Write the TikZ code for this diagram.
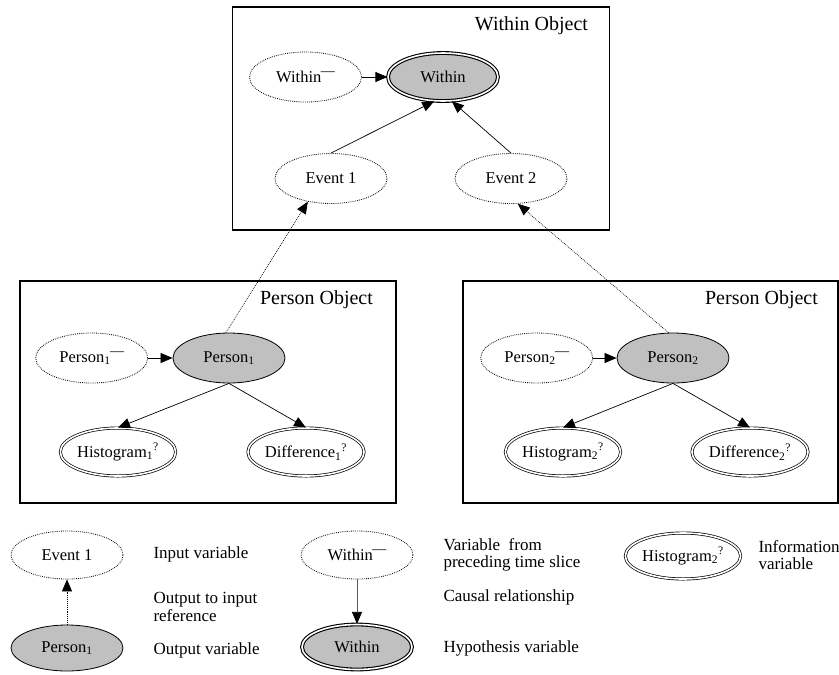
\documentclass[tikz,border=0pt]{standalone}
\usepackage{fontspec}
\setmainfont{Liberation Serif}
\usetikzlibrary{arrows.meta,shapes.geometric}
\definecolor{nodegray}{RGB}{192,192,192}
\newcommand\prevmark{\kern-0.5pt\raisebox{0.42em}{\fontsize{14}{14}\selectfont —}}
\tikzset{
  var/.style={ellipse, inner sep=0pt, minimum width=112pt, minimum height=50pt,
    font=\fontsize{16.5}{19}\selectfont},
  inputvar/.style={var, draw, dash pattern=on 0.8pt off 1.1pt, line width=0.8pt},
  outputvar/.style={var, draw, fill=nodegray, line width=0.8pt},
  hypvar/.style={var, draw, double, double distance=1.6pt, line width=1.1pt,
    fill=nodegray, minimum width=110pt, minimum height=48pt},
  infovar/.style={var, draw, double, double distance=1.6pt, line width=0.7pt,
    minimum width=111pt, minimum height=48pt},
  objbox/.style={draw, line width=1.1pt},
  boxtitle/.style={font=\fontsize{20}{24}\selectfont},
  legtext/.style={anchor=west, align=left, font=\fontsize{17}{17.5}\selectfont},
  tip/.style={-{Triangle[length=12pt,width=10pt,color=black]}},
  causal/.style={tip, line width=0.7pt},
  reflink/.style={tip, line width=0.7pt, dash pattern=on 0.8pt off 1.1pt},
}
\begin{document}
\begin{tikzpicture}[x=1pt, y=-1pt]
\useasboundingbox (0,0) rectangle (839,675);

% object frames
\draw[objbox] (232.7,7) rectangle (609.3,230);
\draw[objbox] (20,281) rectangle (396,503);
\draw[objbox] (463,281) rectangle (838,503);
\node[boxtitle] (t0) at (531.5,26) {Within Object};
\node[boxtitle] (t1) at (316.5,300) {Person Object};
\node[boxtitle] (t2) at (761.5,300) {Person Object};

% within object
\node[inputvar] (wp) at (305.5,77) {Within\prevmark};
\node[hypvar] (w) at (443,77) {Within};
\node[inputvar] (e1) at (331,178.5) {Event 1};
\node[inputvar] (e2) at (511,178.5) {Event 2};
\draw[causal] (wp) -- (w);
\draw[causal] (e1.north) -- (w.-110);
\draw[causal] (e2.north) -- (w.-70);

% person object 1
\node[inputvar] (p1p) at (91.7,358) {Person\textsubscript{1}\prevmark};
\node[outputvar] (p1) at (229,358) {Person\textsubscript{1}};
\node[infovar] (h1) at (118,452) {Histogram\textsubscript{1}\textsuperscript{?}};
\node[infovar] (d1) at (306,452) {Difference\textsubscript{1}\textsuperscript{?}};
\draw[causal] (p1p) -- (p1);
\draw[causal] (p1.south) -- (h1.north);
\draw[causal] (p1.south) -- (d1.north);

% person object 2
\node[inputvar] (p2p) at (536.7,358) {Person\textsubscript{2}\prevmark};
\node[outputvar] (p2) at (673,358) {Person\textsubscript{2}};
\node[infovar] (h2) at (563,452) {Histogram\textsubscript{2}\textsuperscript{?}};
\node[infovar] (d2) at (750,452) {Difference\textsubscript{2}\textsuperscript{?}};
\draw[causal] (p2p) -- (p2);
\draw[causal] (p2.south) -- (h2.north);
\draw[causal] (p2.south) -- (d2.north);

% output to input references
\draw[reflink] (p1.97) -- (e1.-135);
\draw[reflink] (p2.100) -- (e2.-75);

% legend
\node[inputvar, minimum height=48pt] (le) at (67,555) {Event 1};
\node[outputvar, minimum height=46pt] (lp) at (67,648) {Person\textsubscript{1}};
\draw[reflink] (lp) -- (le);
\node[legtext] (lt1) at (150,554) {Input variable};
\node[legtext] (lt2) at (150,607) {Output to input\\reference};
\node[legtext] (lt3) at (150,650) {Output variable};

\node[inputvar, minimum height=48pt] (lwp) at (357,555) {Within\prevmark};
\node[hypvar, minimum height=45pt] (lw) at (357,647) {Within};
\draw[causal, draw=black!65] (lwp) -- (lw);
\node[legtext] (lt4) at (440,555) {Variable\ \ from\\preceding time slice};
\node[legtext] (lt5) at (440,597) {Causal relationship};
\node[legtext] (lt6) at (440,648) {Hypothesis variable};

\node[infovar, minimum height=46pt] (lh) at (683,556) {Histogram\textsubscript{2}\textsuperscript{?}};
\node[legtext] (lt7) at (755,555) {Information\\variable};
\end{tikzpicture}
\end{document}
